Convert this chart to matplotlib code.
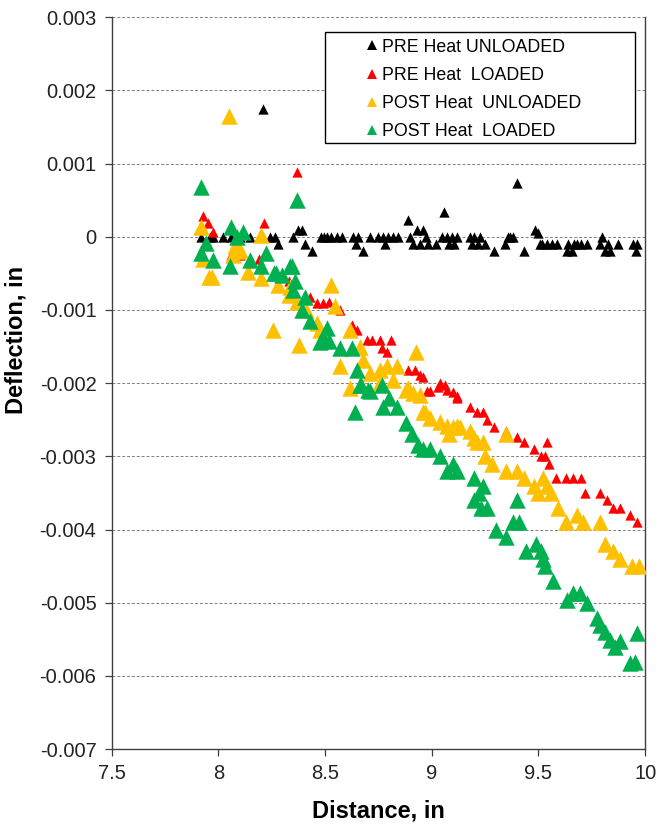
#!/usr/bin/env python3
# coding: utf-8

# Deflection vs distance, pre/post heat, loaded/unloaded

import numpy as np
import matplotlib
matplotlib.use('Agg')
import matplotlib.pyplot as plt
from matplotlib.ticker import FuncFormatter, MultipleLocator
from matplotlib.patches import Rectangle

plt.rcParams['font.family'] = ['Liberation Sans', 'DejaVu Sans']

# PRE Heat UNLOADED
pre_unl_x = [7.92, 7.96, 7.975, 8.02, 8.06, 8.10, 8.147, 8.21, 8.24, 8.265, 8.28, 8.35,
             8.375, 8.39, 8.405, 8.437, 8.48, 8.495, 8.507, 8.53, 8.554, 8.577, 8.632,
             8.645, 8.655, 8.68, 8.71, 8.75, 8.77, 8.78, 8.796, 8.82, 8.84, 8.89, 8.898,
             8.91, 8.93, 8.945, 8.96, 8.975, 8.98, 9.02, 9.047, 9.057, 9.07, 9.082, 9.093,
             9.105, 9.117, 9.18, 9.19, 9.20, 9.215, 9.226, 9.25, 9.29, 9.343, 9.355, 9.367,
             9.38, 9.40, 9.43, 9.484, 9.50, 9.508, 9.515, 9.54, 9.562, 9.586, 9.633, 9.64,
             9.656, 9.668, 9.68, 9.70, 9.726, 9.79, 9.80, 9.812, 9.825, 9.836, 9.875,
             9.945, 9.955, 9.96]
pre_unl_y = [0, 0, 0, 0, 0, 0, 0, 0.00174, 0, 0, -0.0001, 0,
             0.0001, 0.0001, -0.0001, -0.0002, 0, 0, 0, 0, 0, 0, 0,
             -0.0001, 0, -0.0002, 0, 0, 0, -0.0001, 0, 0, 0, 0.00023, 0,
             -0.0001, 0.0001, -0.0001, 0.0001, 0, -0.0001, -0.0001, 0, 0.00034, 0, -0.0001, 0,
             -0.0001, 0, 0, -0.0001, 0, -0.0001, 0, -0.0001, -0.0002, -0.0001, 0, 0,
             0, 0.00074, -0.0002, 0.0001, 0.00005, -0.0001, -0.0001, -0.0001, -0.0001, -0.0001, -0.0002, -0.0001,
             -0.0002, -0.0001, -0.0001, -0.0001, -0.0001, -0.0001, 0, -0.0002, -0.0001, -0.0002, -0.0001,
             -0.0001, -0.0002, -0.0001]

# PRE Heat LOADED
pre_ld_x = [7.93, 7.95, 7.975, 8.06, 8.08, 8.10, 8.19, 8.213, 8.33, 8.37, 8.43, 8.46,
            8.49, 8.52, 8.57, 8.624, 8.648, 8.695, 8.718, 8.757, 8.765, 8.788, 8.81,
            8.89, 8.92, 8.945, 8.96, 8.976, 8.99, 9.03, 9.04, 9.06, 9.07, 9.10, 9.117,
            9.12, 9.18, 9.21, 9.24, 9.26, 9.29, 9.35, 9.40, 9.43, 9.48, 9.51, 9.53, 9.54,
            9.55, 9.58, 9.63, 9.66, 9.70, 9.72, 9.79, 9.82, 9.85, 9.88, 9.93, 9.96]
pre_ld_y = [0.00028, 0.00019, 0.00007, -0.00025, -0.00025, -0.00025, -0.0003, 0.00019, -0.0006, 0.00088, -0.00082, -0.00091,
            -0.00091, -0.00089, -0.001, -0.0012, -0.00128, -0.00141, -0.00141, -0.00141, -0.00152, -0.00158, -0.00141,
            -0.00182, -0.00182, -0.00189, -0.00191, -0.00211, -0.00211, -0.00205, -0.002, -0.00202, -0.00209, -0.00212, -0.00218,
            -0.0022, -0.00232, -0.00239, -0.0024, -0.0025, -0.0026, -0.00266, -0.00273, -0.0028, -0.0029, -0.003, -0.003, -0.0028,
            -0.0031, -0.0033, -0.0033, -0.0033, -0.0033, -0.0035, -0.0035, -0.0036, -0.0037, -0.0037, -0.0038, -0.0039]

# POST Heat UNLOADED
post_unl_x = [7.92, 7.93, 7.955, 7.97, 8.05, 8.077, 8.09, 8.10, 8.07, 8.14, 8.20, 8.20,
              8.255, 8.28, 8.33, 8.335, 8.35, 8.37, 8.38, 8.41, 8.46, 8.476, 8.53, 8.546,
              8.57, 8.616, 8.616, 8.663, 8.68, 8.71, 8.757, 8.757, 8.788, 8.82, 8.835,
              8.88, 8.89, 8.913, 8.926, 8.945, 8.96, 8.97, 8.99, 9.04, 9.07, 9.08, 9.10,
              9.117, 9.13, 9.18, 9.20, 9.21, 9.24, 9.25, 9.28, 9.35, 9.35, 9.40, 9.43,
              9.48, 9.50, 9.52, 9.54, 9.56, 9.59, 9.63, 9.68, 9.71, 9.79, 9.81, 9.85,
              9.88, 9.94, 9.97]
post_unl_y = [0.00014, -0.0003, -0.00055, -0.00055, 0.00165, -0.00013, -0.0002, -0.00018, -0.00025, -0.00048, 0.00003, -0.00056,
              -0.00128, -0.00066, -0.0008, -0.00068, -0.00077, -0.00089, -0.00148, -0.001, -0.00118, -0.00127, -0.00066, -0.00095,
              -0.00177, -0.00127, -0.00206, -0.0015, -0.00168, -0.00186, -0.00182, -0.002, -0.00177, -0.00195, -0.00177,
              -0.00209, -0.00207, -0.00214, -0.00157, -0.00216, -0.00239, -0.0024, -0.00248, -0.00253, -0.00258, -0.0027, -0.0026,
              -0.00258, -0.0026, -0.00266, -0.00275, -0.0028, -0.0028, -0.003, -0.0031, -0.0027, -0.0032, -0.0032, -0.0033,
              -0.0034, -0.0035, -0.0033, -0.0034, -0.0035, -0.0037, -0.0039, -0.0038, -0.0039, -0.0039, -0.0042, -0.0043,
              -0.0044, -0.0045, -0.0045]

# POST Heat LOADED
post_ld_x = [7.92, 7.92, 7.944, 7.975, 8.053, 8.06, 8.085, 8.116, 8.147, 8.20, 8.225, 8.26,
             8.27, 8.296, 8.335, 8.343, 8.35, 8.358, 8.37, 8.39, 8.405, 8.43, 8.476, 8.49,
             8.507, 8.52, 8.57, 8.624, 8.64, 8.648, 8.663, 8.67, 8.70, 8.71, 8.765, 8.77,
             8.80, 8.835, 8.88, 8.905, 8.936, 8.96, 8.99, 9.04, 9.07, 9.10, 9.12, 9.20,
             9.20, 9.22, 9.24, 9.23, 9.26, 9.30, 9.35, 9.38, 9.40, 9.41, 9.44, 9.49, 9.51,
             9.52, 9.53, 9.57, 9.633, 9.664, 9.695, 9.726, 9.773, 9.789, 9.812, 9.836,
             9.86, 9.88, 9.93, 9.953, 9.96]
post_ld_y = [0.00068, -0.00022, -0.00009, -0.00031, -0.0004, 0.00014, 0, 0.00007, -0.00031, -0.0004, -0.00022, -0.0005,
             -0.0005, -0.00052, -0.0004, -0.0004, -0.00072, -0.0006, 0.0005, -0.001, -0.00082, -0.00115, -0.00144, -0.00138,
             -0.00124, -0.00142, -0.00152, -0.00152, -0.0024, -0.00182, -0.00203, -0.00202, -0.00209, -0.00211, -0.00202, -0.00232,
             -0.0022, -0.00232, -0.00255, -0.00269, -0.00285, -0.0029, -0.0029, -0.003, -0.0032, -0.0031, -0.0032, -0.0033,
             -0.0036, -0.0035, -0.0034, -0.0037, -0.0037, -0.004, -0.0041, -0.0039, -0.0036, -0.0039, -0.0043, -0.0042, -0.0043,
             -0.0044, -0.0045, -0.0047, -0.00497, -0.00487, -0.00487, -0.00501, -0.00521, -0.0053, -0.0054, -0.00551,
             -0.0056, -0.00553, -0.00583, -0.00581, -0.00541]

colors = ['black', '#FF0000', '#FFC000', '#00B050']
labels = ['PRE Heat UNLOADED', 'PRE Heat  LOADED', 'POST Heat  UNLOADED', 'POST Heat  LOADED']

fig = plt.figure(figsize=(6.57, 8.24), dpi=100)
ax = fig.add_axes([0.170, 0.091, 0.812, 0.888])

# series drawn in order, later ones on top
ax.scatter(pre_unl_x, pre_unl_y, marker='^', s=55, c=colors[0], linewidths=0, zorder=3)
ax.scatter(pre_ld_x, pre_ld_y, marker='^', s=55, c=colors[1], linewidths=0, zorder=4)
ax.scatter(post_unl_x, post_unl_y, marker='^', s=140, c=colors[2], linewidths=0, zorder=5)
ax.scatter(post_ld_x, post_ld_y, marker='^', s=140, c=colors[3], linewidths=0, zorder=6)

ax.set_xlim(7.5, 10)
ax.set_ylim(-0.007, 0.003)
ax.xaxis.set_major_locator(MultipleLocator(0.5))
ax.yaxis.set_major_locator(MultipleLocator(0.001))
fmt = FuncFormatter(lambda v, p: '%g' % round(v, 6))
ax.xaxis.set_major_formatter(fmt)
ax.yaxis.set_major_formatter(fmt)

ax.grid(axis='y', linestyle=(0, (3, 2)), color='#808080', linewidth=0.7, zorder=0)
ax.set_axisbelow(True)
ax.spines['top'].set_visible(False)
for sp in ['left', 'bottom', 'right']:
    ax.spines[sp].set_color('#404040')
    ax.spines[sp].set_linewidth(1.0)

ax.tick_params(axis='both', direction='out', length=5, width=0.9, color='#404040',
               labelsize=14.5, labelcolor='#222222')
ax.tick_params(axis='y', pad=6)
ax.tick_params(axis='x', pad=6)

ax.set_xlabel('Distance, in', fontsize=17, fontweight='bold', labelpad=12)
ax.set_ylabel('Deflection, in', fontsize=17, fontweight='bold')
ax.yaxis.set_label_coords(-0.158, 0.559)

# legend box (Excel style: fixed box, entries pushed right)
ax.add_patch(Rectangle((0.40, 0.828), 0.58, 0.1515, transform=ax.transAxes,
                       facecolor='white', edgecolor='black', linewidth=1.0, zorder=9))
h = [plt.Line2D([], [], marker='^', linestyle='none', markersize=7.5, markeredgewidth=0, color=c)
     for c in colors]
leg = ax.legend(h, labels, loc='upper left', bbox_to_anchor=(0.472, 0.971), frameon=False,
                handletextpad=0.05, handlelength=1.0, labelspacing=0.63, borderpad=0,
                borderaxespad=0, prop={'size': 12.8})
leg.set_zorder(10)

plt.savefig('out.png', dpi=100)
